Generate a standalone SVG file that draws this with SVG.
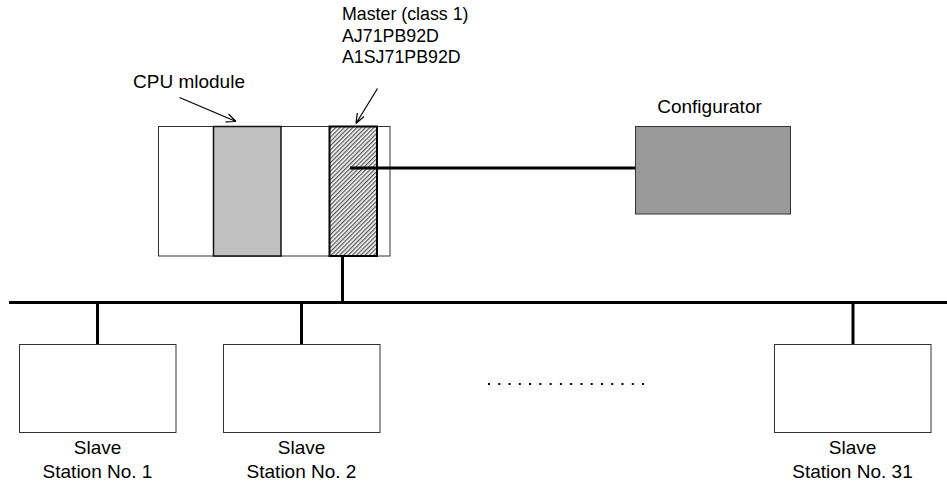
<svg xmlns="http://www.w3.org/2000/svg" width="947" height="486" viewBox="0 0 947 486">
<style>
text{font-family:"Liberation Sans",Arial,sans-serif;fill:#000}
.lbl{font-size:19px;text-anchor:middle}
.mst{font-size:17.8px}
.thin{fill:#fff;stroke:#333;stroke-width:1}
.wire{stroke:#000;stroke-width:3;fill:none}
.arr{stroke:#000;stroke-width:1.2;fill:none}
</style>
<defs>
<pattern id="hatch" patternUnits="userSpaceOnUse" width="3" height="3" patternTransform="rotate(45)">
<rect width="3" height="3" fill="#fff"/>
<rect width="1.3" height="3" fill="#555"/>
</pattern>
</defs>
<g id="plc">
<rect x="158.5" y="126.5" width="231.5" height="129.5" class="thin"/>
<rect x="213.5" y="126.5" width="67.5" height="129.5" fill="#c0c0c0" stroke="#111" stroke-width="1.5"/>
</g>
<g id="master">
<rect x="329.5" y="126.5" width="47.5" height="129.5" fill="url(#hatch)" stroke="#000" stroke-width="2"/>
<text class="mst" x="342" y="20">Master (class 1)</text>
<text class="mst" x="342" y="41.5">AJ71PB92D</text>
<text class="mst" x="342" y="63">A1SJ71PB92D</text>
</g>
<g id="cpu">
<text class="lbl" x="189" y="88">CPU mlodule</text>
</g>
<g id="configurator">
<rect x="635.5" y="126.5" width="155" height="87.5" fill="#999" stroke="#333" stroke-width="1"/>
<text class="lbl" x="709.5" y="113">Configurator</text>
</g>
<g id="slave1">
<rect x="19.5" y="344.5" width="156.5" height="88" class="thin"/>
<text class="lbl" x="97.5" y="454">Slave</text>
<text class="lbl" x="97.5" y="478">Station No. 1</text>
</g>
<g id="slave2">
<rect x="223.5" y="344.5" width="156.5" height="88" class="thin"/>
<text class="lbl" x="301.5" y="454">Slave</text>
<text class="lbl" x="301.5" y="478">Station No. 2</text>
</g>
<g id="slave31">
<rect x="774.5" y="344.5" width="156.5" height="88" class="thin"/>
<text class="lbl" x="852.5" y="454">Slave</text>
<text class="lbl" x="852.5" y="478">Station No. 31</text>
</g>
<g id="connectors">
<line class="wire" x1="350" y1="168" x2="635" y2="168"/>
<line class="wire" x1="342.5" y1="256" x2="342.5" y2="303"/>
<line class="wire" x1="9" y1="302.5" x2="947" y2="302.5"/>
<line class="wire" x1="97.5" y1="302.5" x2="97.5" y2="344"/>
<line class="wire" x1="301.5" y1="302.5" x2="301.5" y2="344"/>
<line class="wire" x1="853" y1="302.5" x2="853" y2="344"/>
<line x1="488" y1="384" x2="645" y2="384" stroke="#000" stroke-width="2" stroke-dasharray="2 8.27"/>
<path class="arr" d="M179.5 97.5 L236 121.5 M236 121.5 L225.5 121.8 M236 121.5 L228.5 114"/>
<path class="arr" d="M377.5 88.5 L356 123.5 M356 123.5 L357.3 113 M356 123.5 L364 116.5"/>
</g>
</svg>
